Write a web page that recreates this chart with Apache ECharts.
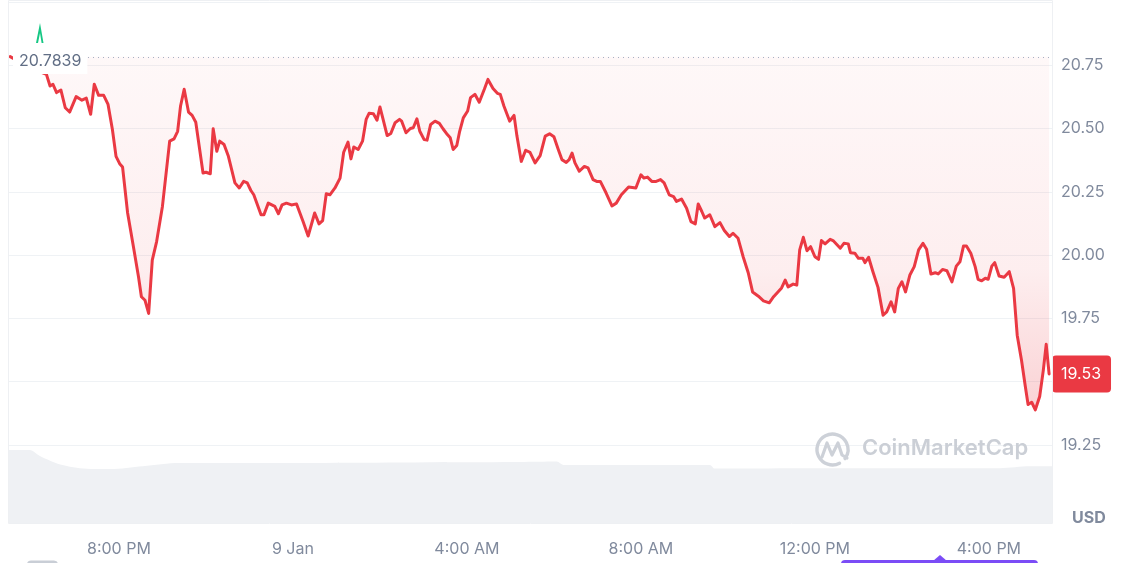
<!DOCTYPE html>
<html>
<head>
<meta charset="utf-8">
<script src="https://cdn.jsdelivr.net/npm/echarts@6/dist/echarts.min.js"></script>
<style>
html,body{margin:0;padding:0;background:#fff;}
#chart{width:1140px;height:563px;}
</style>
</head>
<body>
<div id="chart"></div>
<script>
// ---- data ----
// minutes after 8 Jan 17:27 (left edge of the chart)
const priceMinutes = [3,19,36,53,58,62,67,73,79,85,94,102,108,114,119,125,132,138,144,149,154,158,165,173,180,184,189,194,199,205,213,223,229,234,238,243,249,254,259,269,273,279,283,288,292,298,304,313,319,325,330,335,339,349,353,359,368,373,378,384,391,398,407,414,423,429,434,439,444,451,458,463,469,473,477,483,489,494,498,504,509,513,518,523,528,534,540,543,549,555,559,564,568,574,578,583,589,595,600,606,610,614,619,623,628,634,638,644,650,657,662,669,675,679,684,692,698,702,708,714,720,727,734,741,747,753,759,764,770,774,778,782,788,795,800,807,812,817,825,833,839,846,856,866,873,877,882,888,894,900,905,912,918,922,929,936,942,948,952,957,961,968,975,982,988,995,1000,1007,1014,1021,1027,1035,1042,1050,1056,1062,1067,1072,1076,1083,1088,1092,1097,1102,1107,1113,1118,1122,1127,1134,1138,1148,1153,1159,1162,1168,1173,1179,1182,1187,1193,1200,1207,1212,1218,1223,1228,1233,1238,1244,1250,1256,1262,1267,1273,1279,1283,1289,1295,1302,1308,1313,1318,1322,1328,1334,1338,1343,1348,1352,1357,1361,1367,1374,1381,1387,1392,1398,1403,1407,1412,1417,1423,1428,1432,1436];
const prices = [20.7839,20.758,20.734,20.714,20.668,20.675,20.642,20.652,20.582,20.565,20.626,20.612,20.620,20.556,20.675,20.631,20.631,20.595,20.496,20.390,20.361,20.348,20.166,20.033,19.914,19.835,19.821,19.769,19.980,20.053,20.192,20.450,20.459,20.489,20.589,20.655,20.565,20.552,20.525,20.324,20.327,20.321,20.499,20.410,20.450,20.437,20.390,20.285,20.265,20.291,20.285,20.255,20.238,20.159,20.159,20.205,20.192,20.163,20.198,20.205,20.198,20.202,20.132,20.075,20.166,20.123,20.136,20.242,20.238,20.265,20.304,20.406,20.446,20.380,20.427,20.417,20.450,20.536,20.560,20.558,20.533,20.585,20.529,20.472,20.480,20.523,20.536,20.529,20.483,20.500,20.503,20.538,20.489,20.456,20.454,20.516,20.529,20.520,20.499,20.476,20.463,20.417,20.433,20.489,20.542,20.569,20.622,20.635,20.604,20.655,20.694,20.658,20.639,20.635,20.589,20.529,20.552,20.470,20.370,20.414,20.406,20.364,20.393,20.470,20.479,20.467,20.417,20.377,20.366,20.377,20.403,20.364,20.331,20.350,20.344,20.298,20.291,20.291,20.245,20.194,20.205,20.238,20.269,20.265,20.317,20.304,20.308,20.291,20.291,20.298,20.285,20.238,20.231,20.212,20.221,20.185,20.132,20.123,20.202,20.172,20.146,20.159,20.112,20.128,20.097,20.073,20.086,20.066,19.993,19.930,19.854,19.837,19.819,19.811,19.835,19.854,19.870,19.901,19.874,19.885,19.881,20.020,20.070,20.017,20.033,19.993,19.983,20.057,20.044,20.062,20.057,20.027,20.046,20.044,20.009,20.007,19.987,19.987,19.970,19.991,19.934,19.872,19.762,19.775,19.815,19.775,19.868,19.894,19.854,19.921,19.954,20.020,20.046,20.023,19.925,19.930,19.925,19.943,19.938,19.894,19.956,19.973,20.036,20.036,20.007,19.954,19.904,19.898,19.908,19.904,19.956,19.970,19.917,19.912,19.934,19.868,19.683,19.583,19.484,19.409,19.418,19.388,19.441,19.544,19.647,19.530];
const openPrice = 20.7839;

const volumeMinutes = [0,30,44,58,72,99,141,186,237,403,541,706,757,766,968,975,1092,1368,1410,1440];
const volumes = [78.5,78.5,72,67,63,59,58,61,64.5,64.5,65,65.5,66,62.5,62.5,58.5,59,59,61,61];

const xTickLabels = {20:'8:00 PM', 0:'9 Jan', 4:'4:00 AM', 8:'8:00 AM', 12:'12:00 PM', 16:'4:00 PM'};
const yTicks = [19.25, 19.50, 19.75, 20.00, 20.25, 20.50, 20.75];

// ---- build ----
const startTime = new Date(2025, 0, 8, 17, 27).getTime();
const endTime = startTime + 1440 * 60000;
const MIN = 60000;
const priceData = priceMinutes.map((m, i) => [startTime + m * MIN, prices[i]]);
const volumeData = volumeMinutes.map((m, i) => [startTime + m * MIN, volumes[i]]);
const lastPrice = prices[prices.length - 1];

const RED = '#ea3943';
const GREY_TXT = '#808a9d';
const FONT = 'Inter, "Noto Sans", sans-serif';

const chart = echarts.init(document.getElementById('chart'), null, {renderer: 'canvas'});

const option = {
  animation: false,
  backgroundColor: '#ffffff',
  grid: [
    {left: 8, right: 88, top: 2, bottom: 55},
    {left: 8, right: 88, top: 430, bottom: 40}
  ],
  xAxis: [
    {type: 'time', gridIndex: 0, min: startTime, max: endTime, show: false, splitLine: {show: false}},
    {
      type: 'time', gridIndex: 1, min: startTime, max: endTime,
      minInterval: 4 * 3600 * 1000, maxInterval: 4 * 3600 * 1000, splitNumber: 6,
      axisLine: {show: false}, axisTick: {show: false}, splitLine: {show: false},
      axisLabel: {
        show: true, margin: 18, color: GREY_TXT, fontSize: 16, fontFamily: FONT,
        showMinLabel: false, showMaxLabel: false, hideOverlap: false,
        formatter: function (val) {
          const d = new Date(val);
          if (d.getMinutes() !== 0) return '';
          const h = d.getHours();
          return xTickLabels[h] !== undefined ? xTickLabels[h] : '';
        }
      }
    }
  ],
  yAxis: [
    {
      type: 'value', gridIndex: 0, position: 'right', min: 19, max: 21, interval: 0.25,
      axisLine: {show: false}, axisTick: {show: false},
      splitLine: {show: true, lineStyle: {color: '#eff2f5', width: 1}},
      axisLabel: {
        margin: 9, color: GREY_TXT, fontSize: 16, fontFamily: FONT,
        formatter: function (v) {
          return yTicks.some(t => Math.abs(t - v) < 1e-6) ? v.toFixed(2) : '';
        }
      }
    },
    {
      type: 'value', gridIndex: 1, min: 0, max: 100, show: false, splitLine: {show: false}
    }
  ],
  series: [
    {
      type: 'line', xAxisIndex: 0, yAxisIndex: 0, data: priceData,
      showSymbol: false, symbol: 'none', smooth: false, z: 3,
      lineStyle: {color: RED, width: 3, join: 'round', cap: 'round'},
      areaStyle: {
        origin: openPrice,
        color: new echarts.graphic.LinearGradient(0, 0, 0, 1, [
          {offset: 0, color: 'rgba(234,57,67,0.05)'},
          {offset: 0.6, color: 'rgba(234,57,67,0.12)'},
          {offset: 1, color: 'rgba(234,57,67,0.32)'}
        ])
      },
      markLine: {
        silent: true, symbol: 'none', animation: false,
        data: [
          {
            yAxis: openPrice,
            lineStyle: {color: '#a6b0c3', type: [1, 4], width: 1.2},
            label: {show: false}
          }
        ]
      }
    },
    {
      type: 'line', xAxisIndex: 1, yAxisIndex: 1, data: volumeData,
      showSymbol: false, symbol: 'none', smooth: 0.3, z: 4,
      lineStyle: {width: 0, color: '#eff2f5'},
      areaStyle: {color: '#eff1f4', opacity: 1}
    },
    {
      // last-price badge on the right axis
      type: 'line', xAxisIndex: 0, yAxisIndex: 0, z: 20,
      data: [], silent: true,
      markLine: {
        silent: true, symbol: 'none', animation: false,
        data: [
          {
            yAxis: lastPrice,
            lineStyle: {color: 'rgba(0,0,0,0)', width: 0},
            label: {
              show: true, position: 'end', distance: 0,
              formatter: lastPrice.toFixed(2),
              color: '#ffffff', backgroundColor: RED, borderRadius: 4,
              fontSize: 16, fontFamily: FONT, lineHeight: 17, padding: [10, 10, 10, 9]
            }
          }
        ]
      }
    }
  ],
  graphic: [
    // card border
    {type: 'rect', z: 50, silent: true, shape: {x: 8.5, y: 0.5, width: 1044, height: 523},
      style: {fill: null, stroke: '#eef0f3', lineWidth: 1}},
    // opening price label
    {type: 'text', z: 100, left: 13, top: 48, silent: true,
      style: {text: '20.7839', fill: '#616e85', font: '16px ' + FONT, backgroundColor: '#ffffff', padding: [5, 6, 5, 6]}},
    // green marker
    {type: 'polygon', z: 100, silent: true,
      shape: {points: [[36, 43], [40, 23], [43.5, 43], [41.6, 43], [40, 33], [38, 43]]},
      style: {fill: '#16c784'}},
    // USD
    {type: 'text', z: 100, left: 1072, top: 510, silent: true,
      style: {text: 'USD', fill: GREY_TXT, font: 'bold 16px ' + FONT}},
    // watermark logo
    {type: 'arc', z: 60, silent: true,
      shape: {cx: 832.5, cy: 449.5, r: 15.5, startAngle: Math.PI * 0.35, endAngle: Math.PI * 2.2},
      style: {stroke: '#cdd1d8', lineWidth: 3.4, fill: null, lineCap: 'round'}},
    {type: 'polyline', z: 60, silent: true,
      shape: {points: [[822, 457], [827, 443], [832, 455], [838, 443], [842, 455], [847, 458]]},
      style: {stroke: '#cdd1d8', lineWidth: 3.2, fill: null, lineJoin: 'round', lineCap: 'round'}},
    {type: 'text', z: 60, left: 862, top: 437, silent: true,
      style: {text: 'CoinMarketCap', fill: '#cbcfd6', font: '600 22px ' + FONT}},
    // bottom UI pieces
    {type: 'rect', z: 60, silent: true, shape: {x: 841, y: 560, width: 197, height: 8, r: 4}, style: {fill: '#7b4cf6'}},
    {type: 'polygon', z: 60, silent: true, shape: {points: [[933, 561], [940, 555], [947, 561]]}, style: {fill: '#7b4cf6'}},
    {type: 'rect', z: 60, silent: true, shape: {x: 27, y: 560.5, width: 31, height: 8, r: 4}, style: {fill: '#c9ced6'}}
  ]
};

chart.setOption(option);
</script>
</body>
</html>
